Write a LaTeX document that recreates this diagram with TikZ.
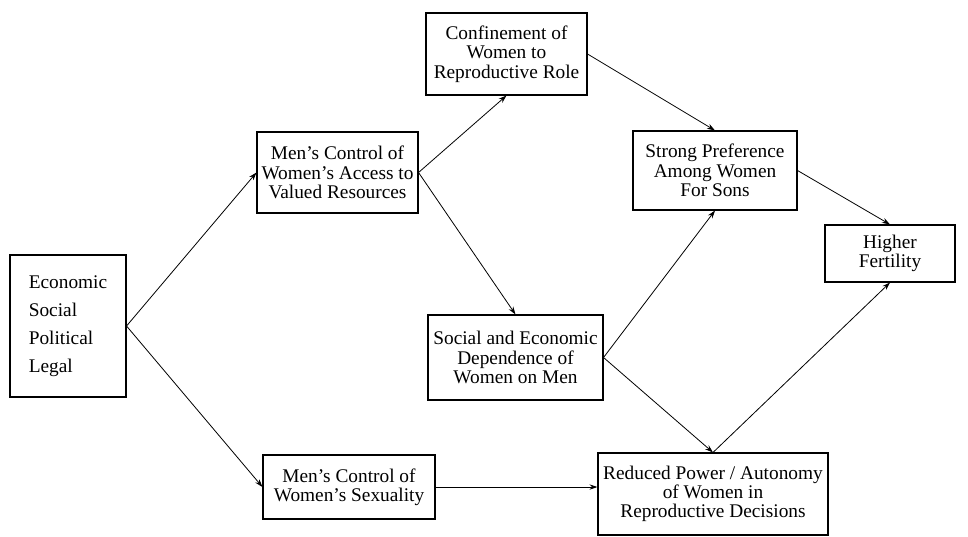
\documentclass[tikz,border=0pt]{standalone}
\usepackage{fontspec}
\setmainfont{Liberation Serif}
\usetikzlibrary{arrows.meta}
\tikzset{
	factor/.style={draw, line width=0.8pt, align=center, inner sep=1pt, font=\fontsize{14.5}{14.5}\selectfont},
	link/.style={line width=0.6pt, -{Stealth[length=6pt,width=4pt]}}
}

\begin{document}
\begin{tikzpicture}[x=0.75pt, y=-0.75pt]
			%%%%% START %%%%%
			
			\useasboundingbox (0, 0) rectangle (968, 536);
			
			\node[factor, align=left, minimum width=87pt, minimum height=106.5pt, font=\fontsize{14.5}{21}\selectfont] (causes) at (68, 326) {Economic\\Social\\Political\\Legal};
			
			\node[factor, minimum width=120.75pt, minimum height=60.75pt] (access) at (337.5, 172.5) {Men's Control of\\Women's Access to\\Valued Resources};
			\node[factor, minimum width=129pt, minimum height=48pt] (sexuality) at (349, 487) {Men's Control of\\Women's Sexuality};
			
			\node[factor, minimum width=120.75pt, minimum height=61.5pt] (confinement) at (506.5, 54) {Confinement of\\Women to\\Reproductive Role};
			\node[factor, minimum width=131.25pt, minimum height=63.75pt] (dependence) at (515.5, 357.5) {Social and Economic\\Dependence of\\Women on Men};
			
			\node[factor, minimum width=123pt, minimum height=59.25pt] (preference) at (715, 170.5) {Strong Preference\\Among Women\\For Sons};
			\node[factor, minimum width=172.5pt, minimum height=61.5pt] (autonomy) at (713, 494) {Reduced Power / Autonomy\\of Women in\\Reproductive Decisions};
			
			\node[factor, minimum width=97.5pt, minimum height=42.75pt] (fertility) at (890, 253.5) {Higher\\Fertility};
			
			\draw[link] (causes.east) -- (access.west);
			\draw[link] (causes.east) -- (sexuality.west);
			
			\draw[link] (access.east) -- (confinement.south);
			\draw[link] (access.east) -- (dependence.north);
			
			\draw[link] (confinement.east) -- (preference.north);
			\draw[link] (dependence.east) -- (preference.south);
			\draw[link] (dependence.east) -- (autonomy.north);
			\draw[link] (sexuality.east) -- (sexuality.east -| autonomy.west);
			
			\draw[link] (preference.east) -- (fertility.north);
			\draw[link] (autonomy.north) -- (fertility.south);
			
			%%%%% END %%%%%
\end{tikzpicture}
\end{document}
